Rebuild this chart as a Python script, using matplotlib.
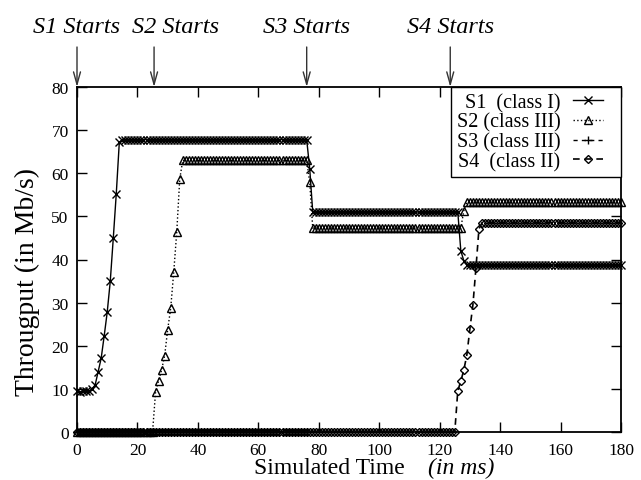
import numpy as np
import matplotlib
matplotlib.use("Agg")
import matplotlib.pyplot as plt
from matplotlib.legend_handler import HandlerLine2D

plt.rcParams['font.family'] = ['Liberation Serif', 'DejaVu Serif']

# ---------------- data ----------------
time_ms = list(range(0, 181))  # simulated time, 1 ms steps

s1_class1 = ([9.5, 9.3, 9.4, 9.6, 9.5, 10.0]
             + [10.9, 14.0, 17.1, 22.3, 27.8, 34.9, 44.9, 55.3, 67.2]
             + [67.8] * 62
             + [61.1]
             + [51.0] * 49
             + [42.0, 39.7]
             + [38.7] * 52)

s2_class3 = ([0.0] * 26
             + [9.3, 11.9, 14.4, 17.7, 23.7, 28.7, 37.0, 46.3, 58.7]
             + [63.0] * 42
             + [57.9]
             + [47.3] * 50
             + [51.3]
             + [53.3] * 52)

s3_class3 = [0.0] * 77          # t = 0 .. 76

s4_class2 = ([0.0] * 126
             + [9.6, 11.8, 14.4, 17.9, 23.9, 29.5, 38.0, 47.1]
             + [48.5] * 47)

labels = ["S1  (class I)", "S2 (class III)", "S3 (class III)", "S4  (class II)"]
start_times = [0, 25.5, 76, 123.5]
start_labels = ["S1 Starts", "S2 Starts", "S3 Starts", "S4 Starts"]
xticks = list(range(0, 181, 20))
yticks = list(range(0, 81, 10))


class ShortLineHandler(HandlerLine2D):
    """Draw the legend line only over the left part of the handle box."""
    def create_artists(self, legend, orig_handle, xdescent, ydescent, width,
                       height, fontsize, trans):
        return super().create_artists(legend, orig_handle, xdescent, ydescent,
                                      width * 0.72, height, fontsize, trans)


# ---------------- figure ----------------
W, H = 641, 481
fig = plt.figure(figsize=(W / 100, H / 100), dpi=100)
ax = fig.add_axes([77 / W, 48 / H, 544 / W, 345 / H])

t = np.array(time_ms)
l1, = ax.plot(t, s1_class1, color='black', lw=1.0, ls='-', marker='x', ms=6,
              mew=1.0, label=labels[0], zorder=4, clip_on=False)
l2, = ax.plot(t, s2_class3, color='black', lw=1.0, ls=':', marker='^', ms=6,
              mew=1.0, mfc='none', label=labels[1], zorder=3, clip_on=False)
l3, = ax.plot(t[:len(s3_class3)], s3_class3, color='black', lw=1.0,
              ls=(0, (3, 3)), marker='+', ms=6, mew=1.0, label=labels[2],
              zorder=3, clip_on=False)
l4, = ax.plot(t, s4_class2, color='black', lw=1.2, ls=(0, (4, 3)), marker='D',
              ms=4.5, mew=1.0, mfc='none', label=labels[3], zorder=3,
              clip_on=False)

ax.set_xlim(0, 180)
ax.set_ylim(0, 80)
ax.set_xticks(xticks)
ax.set_yticks(yticks)
ax.tick_params(direction='in', length=7, width=1.0, top=True, right=True,
               labelsize=12.5)
ax.tick_params(axis='x', pad=7.5)
ax.tick_params(axis='y', pad=6)
for sp in ax.spines.values():
    sp.set_linewidth(1.3)

hm = {h: ShortLineHandler() for h in (l1, l2, l3, l4)}
leg = ax.legend(loc='upper right', markerfirst=False, fancybox=False,
                framealpha=1, edgecolor='black', borderaxespad=0,
                fontsize=14.5, handlelength=2.1, handletextpad=0.6,
                labelspacing=0.02, borderpad=0.3, numpoints=1, handler_map=hm)
leg.get_frame().set_linewidth(1.0)
leg.set_zorder(5)

# start arrows + labels
label_dx = [0, 21, 0, 0]
for st, lab, dx in zip(start_times, start_labels, label_dx):
    ax.annotate('', xy=(st, 1.0), xycoords=('data', 'axes fraction'),
                xytext=(st, 1 + 40 / 345), textcoords=('data', 'axes fraction'),
                arrowprops=dict(arrowstyle='->, head_length=0.9, head_width=0.25',
                                color='#333333', lw=1.0, shrinkA=0, shrinkB=0),
                annotation_clip=False)
    ax.annotate(lab, xy=(st, 1.0), xycoords=('data', 'axes fraction'),
                xytext=(dx * 0.72, (88 - 33) * 0.72), textcoords='offset points',
                ha='center', va='baseline', fontsize=17.5, style='italic',
                annotation_clip=False)

# axis titles
fig.text(254 / W, 1 - 474 / H, "Simulated Time", fontsize=17, ha='left',
         va='baseline')
fig.text(428 / W, 1 - 474 / H, "(in ms)", fontsize=17, ha='left', va='baseline',
         style='italic')
fig.text(27 / W, 1 - 282 / H, "Througput (in Mb/s)", fontsize=20, rotation=90,
         ha='center', va='center')

fig.savefig('out.png', dpi=100)
